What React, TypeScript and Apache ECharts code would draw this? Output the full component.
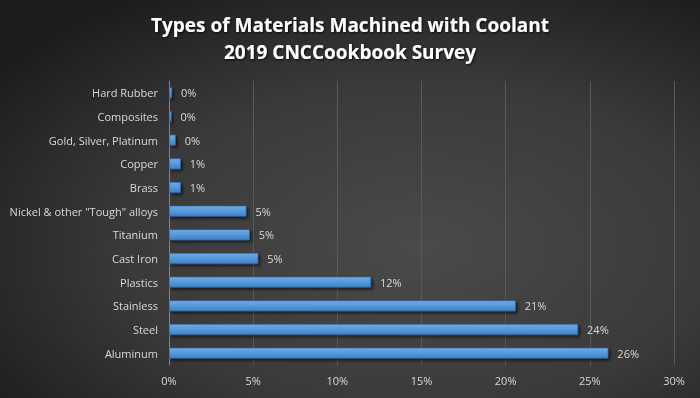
import React, { useEffect, useRef } from "react";
import * as echarts from "echarts";

const categories = [
  "Hard Rubber",
  "Composites",
  "Gold, Silver, Platinum",
  "Copper",
  "Brass",
  'Nickel & other "Tough" alloys',
  "Titanium",
  "Cast Iron",
  "Plastics",
  "Stainless",
  "Steel",
  "Aluminum",
];
const values = [0.18, 0.15, 0.4, 0.7, 0.7, 4.6, 4.8, 5.3, 12.0, 20.6, 24.3, 26.1];
const titleLines = ["Types of Materials Machined with Coolant", "2019 CNCCookbook Survey"];

export default function App() {
  const ref = useRef<HTMLDivElement>(null);
  useEffect(() => {
    if (!ref.current) return;
    const chart = echarts.init(ref.current, null, { renderer: "svg" });
    chart.setOption({
      animation: false,
      graphic: [
        {
          type: "rect",
          z: -100,
          silent: true,
          shape: { x: 0, y: 0, width: 700, height: 398 },
          style: {
            fill: new echarts.graphic.RadialGradient(0.6, 0.62, 0.75, [
              { offset: 0, color: "#4a4a4a" },
              { offset: 0.55, color: "#3a3a3a" },
              { offset: 1, color: "#1c1c1c" },
            ]),
          },
        },
      ],
      title: {
        text: titleLines.join("\n"),
        left: "center",
        top: 6,
        textStyle: {
          color: "#ffffff",
          fontFamily: "Open Sans",
          fontWeight: "bold",
          fontSize: 19,
          lineHeight: 27,
          textShadowColor: "rgba(0,0,0,0.8)",
          textShadowBlur: 2,
          textShadowOffsetX: 1,
          textShadowOffsetY: 1,
        },
      },
      grid: { left: 169, right: 26, top: 81, bottom: 33, containLabel: false },
      xAxis: {
        type: "value",
        min: 0,
        max: 30,
        interval: 5,
        axisLine: { show: false },
        axisTick: { show: false },
        axisLabel: {
          formatter: "{value}%",
          color: "#d9d9d9",
          fontFamily: "Open Sans",
          fontSize: 11,
          margin: 10,
        },
        splitLine: { show: true, lineStyle: { color: "#595959", width: 1 } },
      },
      yAxis: {
        type: "category",
        data: categories,
        inverse: true,
        axisLine: { show: true, lineStyle: { color: "#8c8275", width: 1 } },
        axisTick: { show: false },
        axisLabel: {
          color: "#d9d9d9",
          fontFamily: "Open Sans",
          fontSize: 11,
          margin: 11,
        },
        splitLine: { show: false },
      },
      series: [
        {
          type: "bar",
          data: values,
          barWidth: 11,
          itemStyle: {
            color: new echarts.graphic.LinearGradient(0, 0, 0, 1, [
              { offset: 0, color: "#6eaae6" },
              { offset: 0.5, color: "#5599dc" },
              { offset: 1, color: "#3f7fc2" },
            ]),
            borderColor: "#2d5f94",
            borderWidth: 0.6,
            shadowColor: "rgba(0,0,0,0.6)",
            shadowBlur: 3,
            shadowOffsetX: 2,
            shadowOffsetY: 2,
          },
          label: {
            show: true,
            position: "right",
            distance: 9,
            color: "#d9d9d9",
            fontFamily: "Open Sans",
            fontSize: 11,
            formatter: (p: any) => Math.round(p.value) + "%",
          },
        },
      ],
    });
    return () => chart.dispose();
  }, []);
  return (
    <div
      ref={ref}
      style={{ position: "fixed", left: 0, top: 0, width: 700, height: 398 }}
    />
  );
}
